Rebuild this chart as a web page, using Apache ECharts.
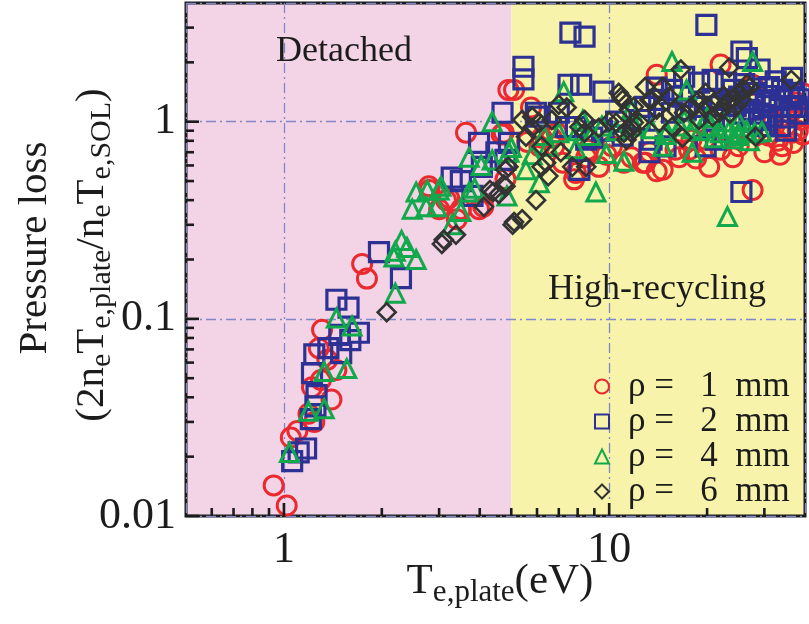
<!DOCTYPE html>
<html>
<head>
<meta charset="utf-8">
<script src="https://cdn.jsdelivr.net/npm/echarts@6/dist/echarts.min.js"></script>
<style>
  html, body { margin: 0; padding: 0; background: #ffffff; }
  #chart { width: 809px; height: 624px; }
</style>
</head>
<body>
<div id="chart"></div>
<script>
// Axis ranges (log-log)
const X_MIN = 0.5, X_MAX = 40, Y_MIN = 0.01, Y_MAX = 4;

// Operating regimes split at Te,plate = 5 eV
const regionEdges = [0.5, 5, 40];
const regionNames = ['Detached', 'High-recycling'];

// Tick positions
const xMajorTicks = [1, 10];
const xMinorTicks = [0.6, 0.7, 0.8, 0.9, 2, 3, 4, 5, 6, 7, 8, 9, 20, 30];
const yMajorTicks = [0.01, 0.1, 1];
const yMinorTicks = [0.02, 0.03, 0.04, 0.05, 0.06, 0.07, 0.08, 0.09,
                     0.2, 0.3, 0.4, 0.5, 0.6, 0.7, 0.8, 0.9, 2, 3];

// Series names (en spaces give the wider math spacing)
const seriesNames = ['ρ = \u20021\u2002mm', 'ρ = \u20022\u2002mm', 'ρ = \u20024\u2002mm', 'ρ = \u20026\u2002mm'];

// [Te,plate (eV), pressure loss]
const rho1 = [
  [0.93, 0.0143], [1.02, 0.0113], [1.05, 0.025], [1.10, 0.027], [1.19, 0.033], [1.24, 0.030],
  [1.22, 0.045], [1.30, 0.049], [1.40, 0.039], [1.45, 0.055], [1.36, 0.062], [1.28, 0.071],
  [1.31, 0.088], [1.74, 0.19], [1.80, 0.16], [2.80, 0.45], [2.79, 0.47], [3.15, 0.40],
  [3.22, 0.41], [3.50, 0.36], [3.40, 0.32], [3.00, 0.36], [3.98, 0.36], [4.10, 0.37],
  [3.63, 0.88], [4.67, 0.86], [4.80, 0.51], [4.90, 1.45], [5.10, 1.45], [5.75, 1.18],
  [4.74, 0.88], [5.60, 0.79], [6.20, 0.83], [6.65, 0.83], [6.78, 0.75], [6.10, 0.75],
  [6.90, 0.88], [7.80, 0.51], [7.90, 0.55], [8.50, 0.66], [9.30, 0.59], [10.2, 0.75],
  [11.1, 0.62], [11.7, 0.66], [12.7, 0.62], [13.3, 0.70], [14.0, 0.56], [14.6, 0.57],
  [14.0, 1.73], [16.0, 0.72], [16.4, 0.66], [17.6, 0.72], [17.9, 0.81], [19.8, 0.81],
  [20.3, 0.59], [22.0, 1.95], [24.0, 0.66], [27.6, 1.54], [27.6, 0.45], [34.0, 0.75],
  [36.5, 0.88], [39.0, 1.02], [37.7, 1.25], [39.3, 1.40], [34.9, 1.06], [38.4, 1.06],
  [33.0, 0.80], [35.0, 0.95], [31.0, 0.85], [30.0, 0.70], [38.0, 0.90], [36.0, 1.10],
  [32.0, 1.00], [25.0, 0.75], [22.0, 0.72], [18.5, 0.65], [12.9, 0.62], [9.8, 0.68],
  [8.6, 0.72], [7.2, 0.62], [33.5, 0.68], [36.8, 0.78], [39.5, 0.86]
];

const rho2 = [
  [1.06, 0.019], [1.11, 0.021], [1.17, 0.022], [1.21, 0.031], [1.25, 0.036], [1.26, 0.041],
  [1.22, 0.053], [1.24, 0.066], [1.37, 0.071], [1.50, 0.067], [1.48, 0.083], [1.60, 0.078],
  [1.70, 0.085], [1.45, 0.125], [1.58, 0.114], [1.96, 0.218], [2.29, 0.161], [3.28, 0.52],
  [3.50, 0.50], [3.80, 0.42], [3.98, 0.78], [4.06, 0.59], [4.50, 0.70], [4.70, 1.11],
  [4.80, 0.64], [4.92, 0.78], [5.45, 1.90], [5.45, 1.64], [6.00, 1.06], [5.95, 1.11],
  [7.00, 1.11], [7.37, 0.94], [7.50, 1.54], [7.60, 2.83], [8.40, 2.70], [8.20, 1.54],
  [7.90, 0.94], [8.50, 0.81], [8.10, 0.57], [8.87, 0.83], [9.60, 1.42], [12.4, 1.02],
  [12.9, 1.19], [13.3, 0.70], [13.5, 0.81], [14.0, 1.49], [14.25, 1.29], [14.9, 0.75],
  [15.6, 1.45], [15.6, 1.11], [16.8, 1.34], [17.0, 1.69], [17.2, 1.15], [18.9, 1.58],
  [18.9, 1.19], [19.8, 0.75], [19.9, 3.10], [20.8, 1.63], [20.8, 1.29], [21.3, 0.81],
  [22.9, 1.58], [24.0, 1.45], [25.1, 1.34], [25.5, 2.27], [26.5, 2.10], [25.5, 0.44],
  [27.0, 1.15], [27.6, 1.29], [28.9, 1.02], [29.0, 1.84], [30.3, 1.25], [31.7, 1.06],
  [33.4, 1.29], [35.8, 1.34], [36.5, 1.67], [37.7, 1.19], [23.4, 1.30], [24.5, 1.20],
  [26.0, 1.10], [27.5, 1.00], [29.0, 1.10], [30.5, 1.35], [32.0, 1.20], [33.5, 0.95],
  [35.0, 1.05], [36.5, 1.20], [38.0, 1.10], [26.0, 1.55], [28.0, 1.40], [31.0, 1.50],
  [34.0, 1.45], [37.0, 1.40], [22.0, 1.20], [21.0, 1.05], [30.0, 0.95], [35.0, 0.90],
  [38.5, 1.30], [32.5, 1.60], [10.5, 1.00], [11.0, 0.85], [9.5, 0.90]
];

const rho4 = [
  [1.04, 0.021], [1.19, 0.034], [1.33, 0.035], [1.33, 0.054], [1.56, 0.056], [1.45, 0.101],
  [1.62, 0.092], [2.20, 0.135], [2.18, 0.206], [2.20, 0.22], [2.30, 0.25], [2.39, 0.23],
  [2.55, 0.20], [2.48, 0.36], [2.74, 0.37], [2.95, 0.37], [2.55, 0.44], [2.76, 0.45],
  [3.00, 0.45], [3.04, 0.47], [3.28, 0.30], [3.50, 0.35], [3.71, 0.44], [3.86, 0.46],
  [3.71, 0.66], [4.04, 0.60], [4.37, 0.64], [4.37, 1.00], [5.00, 0.74], [4.85, 0.42],
  [4.92, 0.70], [5.55, 0.57], [6.10, 0.49], [7.25, 1.42], [7.90, 0.73], [8.30, 1.02],
  [9.10, 0.44], [9.80, 0.69], [11.1, 0.63], [11.7, 1.15], [14.6, 0.75], [14.9, 0.86],
  [15.6, 2.02], [17.3, 1.45], [18.0, 0.70], [23.1, 0.33], [27.6, 2.02], [29.5, 0.89],
  [25.0, 0.88], [19.0, 0.90], [20.5, 0.95], [22.0, 0.88], [23.5, 0.92], [25.0, 0.85],
  [26.5, 0.90], [28.0, 0.88], [21.0, 0.83], [24.0, 0.82], [27.0, 0.80], [18.0, 0.92],
  [16.5, 0.95], [15.0, 0.90], [13.5, 0.92], [12.0, 0.95], [10.5, 0.90], [9.5, 0.95],
  [8.8, 0.85], [8.0, 0.90], [7.0, 0.88], [6.3, 0.85], [25.0, 1.00], [22.5, 1.00],
  [20.0, 1.05], [17.0, 1.02], [6.5, 0.75], [5.8, 0.68]
];

const rho6 = [
  [2.07, 0.108], [3.06, 0.24], [3.10, 0.252], [3.38, 0.267], [4.12, 0.37], [4.30, 0.45],
  [4.40, 0.44], [4.58, 0.43], [4.74, 0.48], [4.80, 0.57], [4.80, 0.47], [4.90, 0.59],
  [5.05, 0.30], [5.10, 0.31], [5.40, 0.32], [5.96, 0.40], [6.20, 0.59], [6.50, 0.53],
  [6.40, 0.62], [7.10, 0.70], [7.70, 0.59], [8.50, 0.59], [5.55, 0.84], [5.80, 0.93],
  [6.10, 0.99], [6.66, 1.02], [7.00, 1.22], [7.40, 1.18], [8.10, 0.94], [8.40, 0.88],
  [8.40, 1.02], [9.30, 0.93], [10.0, 1.00], [10.5, 0.99], [10.9, 1.34], [11.1, 0.88],
  [11.7, 0.93], [12.4, 0.99], [12.9, 1.50], [13.5, 1.29], [5.80, 1.06], [5.40, 1.02],
  [6.20, 0.75], [10.7, 1.40], [11.0, 1.29], [11.5, 1.15], [11.9, 1.19], [11.9, 0.99],
  [11.7, 0.88], [11.3, 0.81], [13.3, 1.29], [14.0, 1.15], [14.6, 1.50], [15.3, 1.34],
  [16.0, 1.15], [17.0, 1.11], [17.9, 1.19], [18.9, 1.29], [19.8, 1.40], [16.8, 0.83],
  [15.6, 0.94], [14.25, 0.99], [18.9, 1.02], [20.8, 1.06], [16.6, 1.84], [23.4, 1.88],
  [21.8, 1.11], [28.2, 0.84], [36.3, 1.63], [22.0, 1.15], [23.0, 1.25], [24.0, 1.30],
  [25.0, 1.40], [26.0, 1.45], [26.5, 1.55], [24.5, 1.20], [23.5, 1.10], [25.5, 1.30],
  [27.0, 1.50], [22.5, 1.35], [21.0, 1.25], [20.0, 1.20]
];

const SERIF = 'Liberation Serif';
const INK = '#1c1c1c';
const colors = {
  pink: '#f3d3e6', yellow: '#f8f3ab',
  red: '#ea2a2e', blue: '#2c3193', green: '#12a84c', dark: '#333333',
  grid: '#8088c8'
};
const regionColors = [colors.pink, colors.yellow];

const chart = echarts.init(document.getElementById('chart'), null, { renderer: 'canvas' });

function isDecade(v) {
  const l = Math.log10(v);
  return Math.abs(l - Math.round(l)) < 1e-6;
}
function decadeLabel(v) {
  return isDecade(v) ? String(Number(v.toPrecision(6))) : '';
}

// Inward tick marks drawn at data positions through the axes' scales
function tickSeries(values, dir, len) {
  return {
    type: 'custom',
    silent: true,
    clip: false,
    z: 4,
    data: values.map(v => (dir === 'x' ? [v, Y_MIN] : [X_MIN, v])),
    renderItem(params, api) {
      const p = api.coord([api.value(0), api.value(1)]);
      const shape = dir === 'x'
        ? { x1: p[0], y1: p[1], x2: p[0], y2: p[1] - len }
        : { x1: p[0], y1: p[1], x2: p[0] + len, y2: p[1] };
      return { type: 'line', shape, style: { stroke: INK, lineWidth: 2.6 } };
    }
  };
}

function scatter(name, data, symbol, size, color, width) {
  return {
    name, type: 'scatter', data, symbol, symbolSize: size, z: 2,
    itemStyle: { color: 'rgba(0,0,0,0)', borderColor: color, borderWidth: width, opacity: 1 },
    emphasis: { disabled: true }
  };
}

const option = {
  animation: false,
  backgroundColor: '#ffffff',
  grid: {
    left: 186, right: 4, top: 3, bottom: 108,
    show: true, borderColor: INK, borderWidth: 3, backgroundColor: 'transparent'
  },
  xAxis: {
    type: 'log', logBase: 10, min: X_MIN, max: X_MAX,
    axisLine: { show: false }, axisTick: { show: false },
    axisLabel: {
      formatter: decadeLabel, color: INK, fontFamily: SERIF, fontSize: 44, margin: 12,
      showMinLabel: false, showMaxLabel: false
    },
    splitLine: { show: true, lineStyle: { color: colors.grid, width: 1.3, type: [10, 4, 2, 4] } }
  },
  yAxis: {
    type: 'log', logBase: 10, min: Y_MIN, max: Y_MAX,
    axisLine: { show: false }, axisTick: { show: false },
    axisLabel: {
      formatter: decadeLabel, color: INK, fontFamily: SERIF, fontSize: 44, margin: 10,
      showMaxLabel: false
    },
    splitLine: { show: true, lineStyle: { color: colors.grid, width: 1.3, type: [10, 4, 2, 4] } }
  },
  legend: {
    orient: 'vertical', left: 594, top: 369,
    itemWidth: 14, itemHeight: 14, itemGap: 0, padding: 0,
    data: seriesNames,
    textStyle: { fontFamily: SERIF, fontSize: 35, color: INK, lineHeight: 34.3, padding: [0, 0, 0, 14] }
  },
  graphic: [
    {
      type: 'text', x: 344, y: 52, z: 10, silent: true,
      style: { text: regionNames[0], fontFamily: SERIF, fontSize: 36, fill: INK, align: 'center', verticalAlign: 'middle' }
    },
    {
      type: 'text', x: 657, y: 290, z: 10, silent: true,
      style: { text: regionNames[1], fontFamily: SERIF, fontSize: 36, fill: INK, align: 'center', verticalAlign: 'middle' }
    },
    {
      type: 'text', x: 500, y: 582, z: 10, silent: true,
      style: {
        text: '{a|T}{b|e,plate}{a|(eV)}', align: 'center', verticalAlign: 'middle',
        rich: {
          a: { fontFamily: SERIF, fontSize: 43, fill: INK, lineHeight: 46 },
          b: { fontFamily: SERIF, fontSize: 31, fill: INK, lineHeight: 31, padding: [22, 0, 0, 0] }
        }
      }
    },
    {
      type: 'text', x: 35, y: 248, rotation: Math.PI / 2, z: 10, silent: true,
      style: { text: 'Pressure loss', fontFamily: SERIF, fontSize: 41, fill: INK, align: 'center', verticalAlign: 'middle' }
    },
    {
      type: 'text', x: 92, y: 255, rotation: Math.PI / 2, z: 10, silent: true,
      style: {
        text: '{a|(2n}{b|e}{a|T}{b|e,plate}{a|/n}{b|e}{a|T}{b|e,SOL}{a|)}',
        align: 'center', verticalAlign: 'middle',
        rich: {
          a: { fontFamily: SERIF, fontSize: 41, fill: INK, lineHeight: 44 },
          b: { fontFamily: SERIF, fontSize: 30, fill: INK, lineHeight: 30, padding: [20, 0, 0, 0] }
        }
      }
    }
  ],
  series: [
    {
      name: 'regimes', type: 'custom', silent: true, clip: false, z: -1,
      data: [[regionEdges[0], Y_MIN, regionEdges[1]], [regionEdges[1], Y_MIN, regionEdges[2]]],
      renderItem(params, api) {
        const p0 = api.coord([api.value(0), Y_MAX]);
        const p1 = api.coord([api.value(2), Y_MIN]);
        return {
          type: 'rect',
          shape: { x: p0[0], y: p0[1], width: p1[0] - p0[0], height: p1[1] - p0[1] },
          style: { fill: regionColors[params.dataIndex] }
        };
      }
    },
    scatter(seriesNames[0], rho1, 'circle', 19, colors.red, 3),
    scatter(seriesNames[1], rho2, 'rect', 19, colors.blue, 3.2),
    scatter(seriesNames[2], rho4, 'triangle', 18, colors.green, 3),
    scatter(seriesNames[3], rho6, 'diamond', 18, colors.dark, 2.6),
    tickSeries(xMajorTicks, 'x', 13),
    tickSeries(xMinorTicks, 'x', 8),
    tickSeries(yMajorTicks, 'y', 13),
    tickSeries(yMinorTicks, 'y', 8)
  ]
};

chart.setOption(option);
</script>
</body>
</html>
